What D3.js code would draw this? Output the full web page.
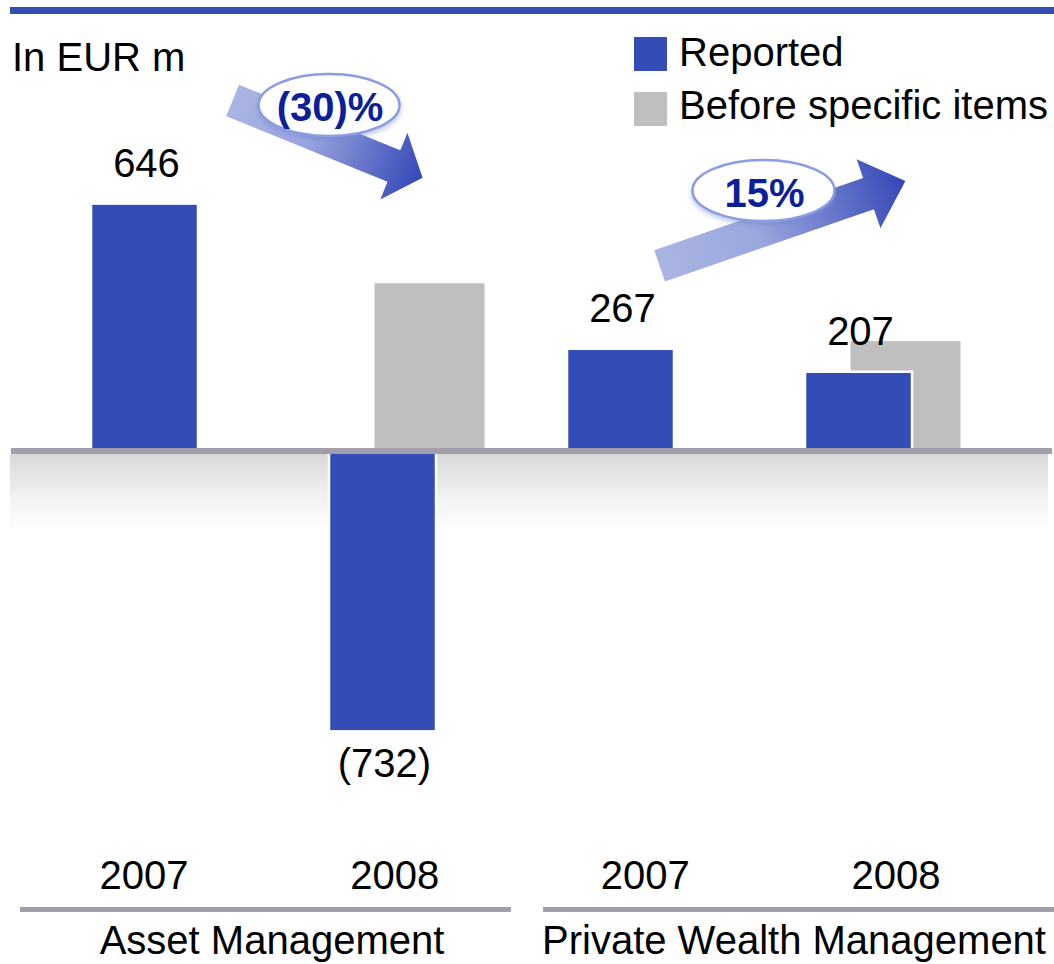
<!DOCTYPE html>
<html>
<head>
<meta charset="utf-8">
<script src="https://cdn.jsdelivr.net/npm/d3@7"></script>
<style>
  body { margin: 0; background: #fff; }
  svg { display: block; }
  text { font-family: "Liberation Sans", Arial, sans-serif; }
</style>
</head>
<body>
<script>
// Data
const categories = ["AM 2007", "AM 2008", "PWM 2007", "PWM 2008"];
const yearLabels = ["2007", "2008", "2007", "2008"];
const groups = ["Asset Management", "Private Wealth Management"];
const reported = [646, -732, 267, 207];
const beforeSpecific = [null, 438, null, 287];
const valueLabels = ["646", "(732)", "267", "207"];
const seriesNames = ["Reported", "Before specific items"];
const changeLabels = ["(30)%", "15%"];

const w = 1054;
const h = 964;
const blue = "#344cb6";
const gray = "#bfbfbf";
const ruleGray = "#a19fa9";
const fontSize = 40;

const svg = d3.select("body")
  .append("svg")
  .attr("width", w)
  .attr("height", h);

const defs = svg.append("defs");

// Scales
const y = d3.scaleLinear()
  .domain([-800, 700])
  .range([757.4, 182.9]);

const xBar = d3.scalePoint()
  .domain(categories)
  .range([144.5, 858.5]);

const xLabel = d3.scalePoint()
  .domain(categories)
  .range([144, 896]);

const barW = 107;
const grayW = 110;
const grayOff = 47;

// Top rule
svg.append("rect")
  .attr("x", 10).attr("y", 7)
  .attr("width", w - 10).attr("height", 7)
  .attr("fill", blue);

// Unit label
svg.append("text")
  .attr("x", 12).attr("y", 71)
  .attr("font-size", fontSize)
  .text("In EUR m");

// Legend
const legend = svg.append("g").attr("transform", "translate(634, 37)");
legend.selectAll("rect")
  .data(seriesNames)
  .enter()
  .append("rect")
  .attr("x", 0)
  .attr("y", (d, i) => i * 55)
  .attr("width", 33)
  .attr("height", 34)
  .attr("fill", (d, i) => i === 0 ? blue : gray);
legend.selectAll("text")
  .data(seriesNames)
  .enter()
  .append("text")
  .attr("x", 45)
  .attr("y", (d, i) => 29 + i * 53)
  .attr("font-size", fontSize)
  .text(d => d);

// Shaded band under the zero line
const band = defs.append("linearGradient")
  .attr("id", "band")
  .attr("x1", 0).attr("y1", 0).attr("x2", 0).attr("y2", 1);
band.append("stop").attr("offset", 0).attr("stop-color", "#d9d9d9");
band.append("stop").attr("offset", 0.55).attr("stop-color", "#f1f1f1");
band.append("stop").attr("offset", 1).attr("stop-color", "#ffffff");

svg.append("rect")
  .attr("x", 10).attr("y", y(0) + 3)
  .attr("width", 1038).attr("height", 76)
  .attr("fill", "url(#band)");

// Gray bars (before specific items)
const grayData = categories
  .map((c, i) => ({ c, v: beforeSpecific[i] }))
  .filter(d => d.v !== null);

svg.selectAll(".gray-bar")
  .data(grayData)
  .enter()
  .append("rect")
  .attr("class", "gray-bar")
  .attr("x", d => xBar(d.c) + grayOff - grayW / 2)
  .attr("y", d => y(d.v))
  .attr("width", grayW)
  .attr("height", d => y(0) - y(d.v))
  .attr("fill", gray);

// Blue bars (reported)
const repData = categories.map((c, i) => ({ c, v: reported[i], label: valueLabels[i] }));

svg.selectAll(".rep-bar")
  .data(repData)
  .enter()
  .append("rect")
  .attr("class", "rep-bar")
  .attr("x", d => xBar(d.c) - barW / 2)
  .attr("y", d => Math.min(y(d.v), y(0)))
  .attr("width", barW)
  .attr("height", d => Math.abs(y(d.v) - y(0)))
  .attr("fill", blue)
  .attr("stroke", "#fff")
  .attr("stroke-width", 2.5);

// Zero line
svg.append("rect")
  .attr("x", 11).attr("y", y(0) - 3)
  .attr("width", 1041).attr("height", 6)
  .attr("fill", ruleGray);

// Value labels
svg.selectAll(".val")
  .data(repData)
  .enter()
  .append("text")
  .attr("class", "val")
  .attr("x", d => xBar(d.c) + 2)
  .attr("y", d => d.v >= 0 ? y(d.v) - 27 : y(d.v) + 46)
  .attr("text-anchor", "middle")
  .attr("font-size", fontSize)
  .text(d => d.label);

// Year labels
svg.selectAll(".year")
  .data(categories)
  .enter()
  .append("text")
  .attr("class", "year")
  .attr("x", d => xLabel(d))
  .attr("y", 889)
  .attr("text-anchor", "middle")
  .attr("font-size", fontSize)
  .text((d, i) => yearLabels[i]);

// Group brackets and names
const groupLayout = [
  { x0: 20, x1: 511, cx: 272 },
  { x0: 543, x1: 1054, cx: 794 }
];
svg.selectAll(".grp-line")
  .data(groupLayout)
  .enter()
  .append("rect")
  .attr("class", "grp-line")
  .attr("x", d => d.x0)
  .attr("y", 907)
  .attr("width", d => d.x1 - d.x0)
  .attr("height", 5)
  .attr("fill", ruleGray);
svg.selectAll(".grp-name")
  .data(groupLayout)
  .enter()
  .append("text")
  .attr("class", "grp-name")
  .attr("x", d => d.cx)
  .attr("y", 954)
  .attr("text-anchor", "middle")
  .attr("font-size", fontSize)
  .text((d, i) => groups[i]);

// Change arrows with oval labels
const arrows = [
  { tail: [232.6, 100.5], tip: [422.6, 177.7], shaft: 34, head: 72, headLen: 31,
    oval: [329, 105, 70.5, 31] },
  { tail: [659.6, 265.8], tip: [905.4, 181], shaft: 33, head: 73, headLen: 39,
    oval: [763.5, 190.5, 71, 30.5] }
];

const shadow = defs.append("filter")
  .attr("id", "ovalShadow")
  .attr("x", "-20%").attr("y", "-20%")
  .attr("width", "140%").attr("height", "150%");
shadow.append("feDropShadow")
  .attr("dx", 0).attr("dy", 3)
  .attr("stdDeviation", 2.5)
  .attr("flood-color", "#7183cf")
  .attr("flood-opacity", 0.45);

function arrowPath(a) {
  const dx = a.tip[0] - a.tail[0];
  const dy = a.tip[1] - a.tail[1];
  const len = Math.hypot(dx, dy);
  const ux = dx / len, uy = dy / len;
  const px = -uy, py = ux;
  const bx = a.tip[0] - ux * a.headLen;
  const by = a.tip[1] - uy * a.headLen;
  const s = a.shaft / 2, hw = a.head / 2;
  const pts = [
    [a.tail[0] + px * s, a.tail[1] + py * s],
    [bx + px * s, by + py * s],
    [bx + px * hw, by + py * hw],
    a.tip,
    [bx - px * hw, by - py * hw],
    [bx - px * s, by - py * s],
    [a.tail[0] - px * s, a.tail[1] - py * s]
  ];
  return d3.line()(pts) + "Z";
}

arrows.forEach((a, i) => {
  const grad = defs.append("linearGradient")
    .attr("id", "arrowGrad" + i)
    .attr("gradientUnits", "userSpaceOnUse")
    .attr("x1", a.tail[0]).attr("y1", a.tail[1])
    .attr("x2", a.tip[0]).attr("y2", a.tip[1]);
  grad.append("stop").attr("offset", 0).attr("stop-color", "#aab5e3");
  grad.append("stop").attr("offset", 0.4).attr("stop-color", "#9ba6dd");
  grad.append("stop").attr("offset", 1).attr("stop-color", "#3447b7");

  svg.append("path")
    .attr("d", arrowPath(a))
    .attr("fill", `url(#arrowGrad${i})`);

  svg.append("ellipse")
    .attr("cx", a.oval[0]).attr("cy", a.oval[1])
    .attr("rx", a.oval[2]).attr("ry", a.oval[3])
    .attr("fill", "#fff")
    .attr("stroke", "#8b9de2")
    .attr("stroke-width", 2.5)
    .attr("filter", "url(#ovalShadow)");

  svg.append("text")
    .attr("x", a.oval[0] + 1)
    .attr("y", a.oval[1] + 16)
    .attr("text-anchor", "middle")
    .attr("font-size", fontSize)
    .attr("font-weight", "bold")
    .attr("fill", "#0b1f9c")
    .text(changeLabels[i]);
});
</script>
</body>
</html>
